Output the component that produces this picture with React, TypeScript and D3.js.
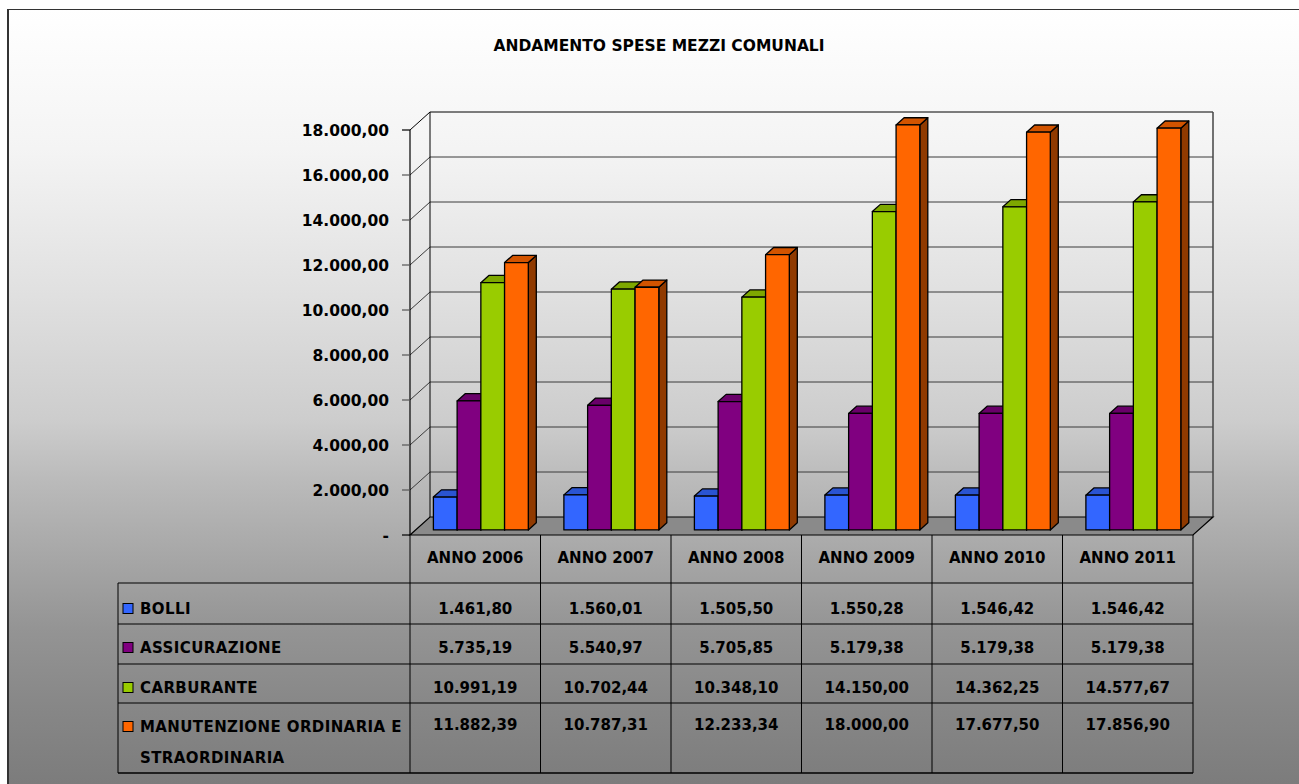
import React from "react";
import * as d3 from "d3";

// Spese annuali per voce (euro)
const categories = ["ANNO 2006", "ANNO 2007", "ANNO 2008", "ANNO 2009", "ANNO 2010", "ANNO 2011"];
const seriesNames = ["BOLLI", "ASSICURAZIONE", "CARBURANTE", "MANUTENZIONE ORDINARIA E STRAORDINARIA"];
const bolli = [1461.8, 1560.01, 1505.5, 1550.28, 1546.42, 1546.42];
const assicurazione = [5735.19, 5540.97, 5705.85, 5179.38, 5179.38, 5179.38];
const carburante = [10991.19, 10702.44, 10348.1, 14150.0, 14362.25, 14577.67];
const manutenzione = [11882.39, 10787.31, 12233.34, 18000.0, 17677.5, 17856.9];
const yTicks = [0, 2000, 4000, 6000, 8000, 10000, 12000, 14000, 16000, 18000];
const title = "ANDAMENTO SPESE MEZZI COMUNALI";

const seriesValues = [bolli, assicurazione, carburante, manutenzione];
const seriesColors = ["#3366FF", "#800080", "#99CC00", "#FF6600"];
const legendLines = [["BOLLI"], ["ASSICURAZIONE"], ["CARBURANTE"], ["MANUTENZIONE ORDINARIA E", "STRAORDINARIA"]];

const W = 1299;
const H = 784;
const FONT = "'DejaVu Sans', sans-serif";

const itLocale = d3.formatLocale({ decimal: ",", thousands: ".", grouping: [3], currency: ["€", ""] });
const fmt = itLocale.format(",.2f");

// plot geometry
const plotLeft = 410;
const plotRight = 1193;
const depth = { x: 20, y: -18 };
const barZ0 = 0.28;
const barZ1 = 0.68;

const x = d3.scaleBand<string>().domain(categories).range([plotLeft, plotRight]).paddingInner(0).paddingOuter(0);
const xs = d3.scaleBand<string>().domain(seriesNames).range([0, x.bandwidth()]).paddingInner(0).paddingOuter(0.75);
const y = d3.scaleLinear().domain([0, 18000]).range([535, 130]);

const tableTop = y(0);
const rowLines = [583, 624, 664, 703, 773];
const tableLeft = 118;
const rowTextY = [[609], [648], [688], [727, 758]];
const valueTextY = [609, 648, 688, 725];

function shade(c: string, k: number) {
  const col = d3.color(c)!;
  return col.darker(k).formatHex();
}

function Bar({ x0, w, v, color }: { x0: number; w: number; v: number; color: string }) {
  const fx = x0 + depth.x * barZ0;
  const fyBase = y(0) + depth.y * barZ0;
  const fyTop = y(v) + depth.y * barZ0;
  const dx = depth.x * (barZ1 - barZ0);
  const dy = depth.y * (barZ1 - barZ0);
  const top = [
    [fx, fyTop],
    [fx + w, fyTop],
    [fx + w + dx, fyTop + dy],
    [fx + dx, fyTop + dy],
  ];
  const side = [
    [fx + w, fyTop],
    [fx + w + dx, fyTop + dy],
    [fx + w + dx, fyBase + dy],
    [fx + w, fyBase],
  ];
  const pts = (p: number[][]) => p.map((q) => q.join(",")).join(" ");
  return (
    <g stroke="#000" strokeWidth={1.3} strokeLinejoin="round">
      <polygon points={pts(side)} fill={shade(color, 1.6)} />
      <polygon points={pts(top)} fill={shade(color, 0.55)} />
      <rect x={fx} y={fyTop} width={w} height={fyBase - fyTop} fill={color} />
    </g>
  );
}

export default function App() {
  const backLeft = plotLeft + depth.x;
  const backRight = plotRight + depth.x;
  const floor = [
    [plotLeft, y(0)],
    [plotRight, y(0)],
    [backRight, y(0) + depth.y],
    [backLeft, y(0) + depth.y],
  ];
  const colEdges = [...categories.map((c) => x(c)!), plotRight];

  return (
    <svg width={W} height={H} style={{ position: "absolute", left: 0, top: 0, overflow: "hidden" }} fontFamily={FONT}>
      <defs>
        <linearGradient id="bg" gradientUnits="userSpaceOnUse" x1="0" y1="9" x2="0" y2="784">
          <stop offset="0" stopColor="#ffffff" />
          <stop offset="0.18" stopColor="#f4f4f4" />
          <stop offset="0.37" stopColor="#e0e0e0" />
          <stop offset="0.53" stopColor="#cdcdcd" />
          <stop offset="0.61" stopColor="#bababa" />
          <stop offset="0.73" stopColor="#a2a2a2" />
          <stop offset="0.8" stopColor="#949494" />
          <stop offset="0.9" stopColor="#878787" />
          <stop offset="1" stopColor="#7c7c7c" />
        </linearGradient>
      </defs>
      <rect x={0} y={0} width={W} height={H} fill="url(#bg)" />
      {/* chart area border: only the top and left edges fall inside the view */}
      <path d={`M8,${H + 5} V9 H${W + 5}`} fill="none" stroke="#333" strokeWidth={2} />
      <rect x={0} y={0} width={W} height={9} fill="#ffffff" />
      <rect x={0} y={0} width={7} height={H} fill="#ffffff" />

      <text x={659} y={51} textAnchor="middle" fontSize={15.5} fontWeight="bold" fill="#000">
        {title}
      </text>

      {/* walls and gridlines */}
      {yTicks.filter((t) => t > 0).map((t) => (
        <g key={t} stroke={t === 18000 ? "#000" : "#3a3a3a"} strokeWidth={1}>
          <line x1={backLeft} x2={backRight} y1={y(t) + depth.y} y2={y(t) + depth.y} />
          <line x1={plotLeft} x2={backLeft} y1={y(t)} y2={y(t) + depth.y} />
        </g>
      ))}
      <line x1={backLeft} x2={backLeft} y1={y(18000) + depth.y} y2={y(0) + depth.y} stroke="#000" />
      <line x1={backRight} x2={backRight} y1={y(18000) + depth.y} y2={y(0) + depth.y} stroke="#444" strokeWidth={1.5} />
      <polygon points={floor.map((p) => p.join(",")).join(" ")} fill="#8a8a8a" stroke="#000" strokeWidth={1.2} />

      {/* value axis */}
      <line x1={plotLeft} x2={plotLeft} y1={y(18000)} y2={y(0)} stroke="#000" strokeWidth={1.2} />
      {yTicks.map((t) => (
        <g key={t}>
          <line x1={plotLeft - 8} x2={plotLeft} y1={y(t)} y2={y(t)} stroke={t === 18000 || t === 0 ? "#000" : "#555"} strokeWidth={1.2} />
          <text x={389} y={y(t)} dy="0.36em" textAnchor="end" fontSize={15.5} fontWeight="bold" fill="#000">
            {t === 0 ? "-" : fmt(t)}
          </text>
        </g>
      ))}

      {/* bars */}
      {categories.map((c, ci) => (
        <g key={c}>
          {seriesNames.map((s, si) => (
            <Bar key={s} x0={x(c)! + xs(s)!} w={xs.bandwidth()} v={seriesValues[si][ci]} color={seriesColors[si]} />
          ))}
        </g>
      ))}

      {/* data table */}
      <g stroke="#000" strokeWidth={1}>
        {colEdges.map((cx, i) => (
          <line key={i} x1={cx} x2={cx} y1={tableTop} y2={rowLines[rowLines.length - 1]} />
        ))}
        <line x1={tableLeft} x2={tableLeft} y1={rowLines[0]} y2={rowLines[rowLines.length - 1]} />
        {rowLines.map((ry, i) => (
          <line key={i} x1={tableLeft} x2={plotRight} y1={ry} y2={ry} strokeWidth={i === rowLines.length - 1 ? 1.5 : 1} />
        ))}
      </g>
      {categories.map((c) => (
        <text key={c} x={x(c)! + x.bandwidth() / 2} y={558} dy="0.36em" textAnchor="middle" fontSize={15} fontWeight="bold">
          {c}
        </text>
      ))}
      {seriesNames.map((s, si) => (
        <g key={s}>
          <rect x={123} y={rowTextY[si][0] - 5.5} width={10} height={10} fill={seriesColors[si]} stroke="#000" strokeWidth={1} />
          {legendLines[si].map((ln, li) => (
            <text key={li} x={140} y={rowTextY[si][li]} dy="0.36em" fontSize={15} fontWeight="bold" letterSpacing={0.4}>
              {ln}
            </text>
          ))}
          {categories.map((c, ci) => (
            <text key={c} x={x(c)! + x.bandwidth() / 2} y={valueTextY[si]} dy="0.36em" textAnchor="middle" fontSize={15} fontWeight="bold">
              {fmt(seriesValues[si][ci])}
            </text>
          ))}
        </g>
      ))}
    </svg>
  );
}
